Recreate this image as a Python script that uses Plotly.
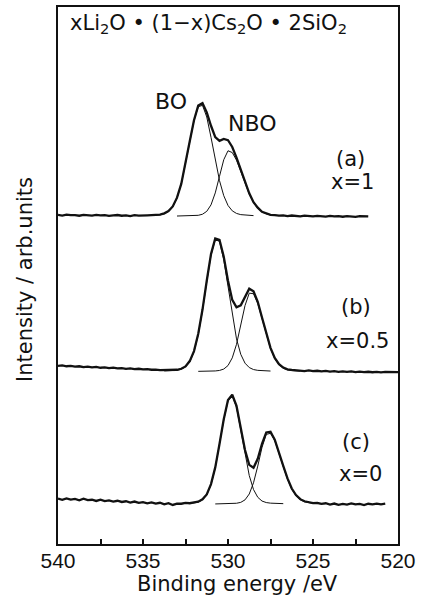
import plotly.graph_objects as go

# ---------------- data ----------------
energy = [
    540.0, 539.75, 539.5, 539.25, 539.0, 538.75, 538.5, 538.25, 538.0, 537.75,
    537.5, 537.25, 537.0, 536.75, 536.5, 536.25, 536.0, 535.75, 535.5, 535.25,
    535.0, 534.75, 534.5, 534.25, 534.0, 533.75, 533.5, 533.25, 533.0, 532.75,
    532.5, 532.25, 532.0, 531.75, 531.5, 531.25, 531.0, 530.75, 530.5, 530.25,
    530.0, 529.75, 529.5, 529.25, 529.0, 528.75, 528.5, 528.25, 528.0, 527.75,
    527.5, 527.25, 527.0, 526.75, 526.5, 526.25, 526.0, 525.75, 525.5, 525.25,
    525.0, 524.75, 524.5, 524.25, 524.0, 523.75, 523.5, 523.25, 523.0, 522.75,
    522.5, 522.25, 522.0, 521.75, 521.5, 521.25, 521.0, 520.75, 520.5, 520.25,
    520.0,
]

# measured spectra (envelopes), arbitrary units
spectrum_a = [
    1.3, 0.7, 1.6, 1.0, 1.2, 0.5, 1.4, 0.9, 0.6, 1.3,
    0.8, 1.1, 0.3, 0.9, 1.2, 0.5, 0.8, 0.2, 1.0, 0.6,
    0.4, 0.9, 1.1, 1.3, 1.6, 2.9, 5.1, 9.8, 18.6, 32.4,
    52.3, 75.2, 96.4, 111.0, 113.5, 104.3, 90.8, 79.4, 75.6, 77.5,
    76.3, 69.5, 58.9, 46.9, 34.0, 23.0, 14.1, 8.6, 4.5, 2.9,
    1.4, 1.2, 0.6, 0.9, 0.2, 0.7, 0.4, -0.1, 0.6, 0.3,
    -0.2, 0.4, 0.1, -0.4, 0.3, -0.2, 0.1, -0.5, 0.0, -0.3,
    -0.6, 0.1, -0.4, -0.2, None, None, None, None, None, None,
    None,
]
spectrum_b = [
    5.8, 6.2, 5.4, 5.7, 5.0, 5.4, 4.6, 5.0, 4.3, 4.7,
    3.9, 4.3, 3.6, 4.0, 3.2, 3.6, 2.8, 3.3, 2.5, 2.9,
    2.2, 2.6, 1.9, 2.1, 1.5, 1.6, 1.2, 1.6, 1.9, 2.9,
    5.2, 10.6, 20.6, 38.0, 62.3, 91.2, 118.0, 133.6, 132.3, 115.4,
    91.2, 72.0, 64.6, 66.5, 75.3, 83.3, 80.7, 70.1, 54.4, 38.0,
    23.9, 13.8, 7.5, 4.1, 2.3, 1.7, 1.1, 1.2, 0.6, 1.2,
    0.5, 0.9, 0.3, 0.7, 0.1, 0.5, -0.2, 0.3, -0.3, 0.2,
    -0.4, 0.0, -0.5, -0.1, -0.6, -0.2, -0.7, -0.3, -0.6, -0.4,
    -0.5,
]
spectrum_c = [
    5.5, 4.3, 5.8, 4.6, 5.2, 3.9, 5.4, 4.1, 4.4, 3.2,
    4.5, 3.0, 3.7, 2.5, 3.4, 2.2, 2.9, 1.6, 2.6, 1.3,
    2.1, 0.8, 1.7, 0.5, 1.4, -0.2, 0.9, -0.8, 0.6, 0.4,
    1.2, 0.9, 1.8, 2.4, 4.9, 9.8, 20.1, 36.9, 60.4, 85.2,
    104.5, 109.8, 98.6, 77.0, 54.4, 39.4, 36.5, 45.5, 60.6, 72.0,
    72.6, 64.8, 52.7, 38.5, 25.8, 15.7, 9.1, 5.0, 2.9, 1.9,
    1.1, 1.3, 0.2, 0.9, -0.4, 0.6, -0.7, 0.3, -0.5, 0.8,
    -0.3, 0.2, -0.9, 0.4, -0.2, 0.6, -0.3, 0.5, None, None,
    None,
]

# fitted components (BO / NBO) for each spectrum, with their energy spans
bo_a = [0.7, 1.0, 1.4, 2.4, 4.8, 9.4, 18.2, 32.2, 51.7, 74.6, 96.0, 109.9, 111.3,
        99.6, 79.2, 56.2, 35.7, 20.6, 10.8, 5.4, 2.8, 1.6, 1.1, 0.7, 0.6]
bo_a_span = (534.5, 528.5)
nbo_a = [0.2, 0.3, 0.3, 0.4, 0.5, 0.9, 2.0, 4.9, 11.4, 23.4, 40.1, 56.7, 65.7,
         63.9, 56.3, 45.1, 33.0, 22.1, 13.7, 7.9, 4.3, 2.3, 1.3, 0.8, 0.6]
nbo_a_span = (533.0, 527.0)

bo_b = [0.7, 0.8, 1.0, 1.4, 2.4, 4.7, 9.8, 19.9, 37.0, 61.4, 90.3, 117.0, 132.5,
        130.7, 112.2, 84.5, 56.0, 32.9, 17.4, 8.5, 4.1, 2.1, 1.3, 1.0, 0.8, 0.6]
bo_b_span = (533.75, 527.5)
nbo_b = [0.3, 0.3, 0.4, 0.5, 0.7, 1.2, 2.6, 6.1, 13.8, 27.4, 46.5, 66.3, 78.8,
         78.2, 68.4, 53.1, 36.9, 23.0, 13.0, 6.8, 3.4, 1.7, 1.0, 0.7, 0.5]
nbo_b_span = (531.75, 525.75)

bo_c = [0.5, 0.6, 0.8, 1.2, 2.0, 4.3, 9.4, 19.5, 36.3, 59.5, 84.6, 103.6, 108.7,
        97.3, 74.8, 49.6, 28.7, 14.7, 6.9, 3.1, 1.6, 1.0, 0.7, 0.6, 0.5]
bo_c_span = (532.75, 526.75)
nbo_c = [0.2, 0.3, 0.3, 0.4, 0.6, 0.9, 1.8, 4.3, 10.2, 21.4, 38.2, 57.0, 70.0,
         71.1, 63.8, 51.6, 37.6, 24.9, 15.0, 8.4, 4.4, 2.3, 1.3, 0.8, 0.6, 0.4]
nbo_c_span = (530.75, 524.5)

major_ticks = [540, 535, 530, 525, 520]
tick_labels = ["540", "535", "530", "525", "520"]
minor_ticks = [537.5, 532.5, 527.5, 522.5]

panel_labels = ["(a)", "(b)", "(c)"]
composition_labels = ["x=1", "x=0.5", "x=0"]
formula_label = "xLi<sub>2</sub>O • (1−x)Cs<sub>2</sub>O • 2SiO<sub>2</sub>"

# ---------------- layout constants ----------------
offsets = [329, 173, 40]          # vertical stacking of the three spectra
INK = "#111111"
FONT = "DejaVu Sans"


def span(hi, lo):
    return [e for e in energy if lo <= e <= hi]


def shift(vals, off):
    return [None if v is None else v + off for v in vals]


fig = go.Figure()

panels = [
    (spectrum_a, bo_a, bo_a_span, nbo_a, nbo_a_span),
    (spectrum_b, bo_b, bo_b_span, nbo_b, nbo_b_span),
    (spectrum_c, bo_c, bo_c_span, nbo_c, nbo_c_span),
]

for (spec, bo, bo_sp, nbo, nbo_sp), off in zip(panels, offsets):
    fig.add_trace(go.Scatter(x=span(*bo_sp), y=shift(bo, off), mode="lines",
                             line=dict(color=INK, width=1.0), hoverinfo="skip"))
    fig.add_trace(go.Scatter(x=span(*nbo_sp), y=shift(nbo, off), mode="lines",
                             line=dict(color=INK, width=1.0), hoverinfo="skip"))
    fig.add_trace(go.Scatter(x=energy, y=shift(spec, off), mode="lines",
                             line=dict(color=INK, width=2.3), connectgaps=False,
                             hoverinfo="skip"))

annotations = [
    dict(x=539.4, y=522, xanchor="left", yanchor="middle",
         text=formula_label, font=dict(size=21)),
    dict(x=533.35, y=444, text="BO", font=dict(size=22)),
    dict(x=528.6, y=422, text="NBO", font=dict(size=22)),
]
label_pos = [(522.8, 386, 522.65, 363), (522.45, 238, 522.4, 204), (522.45, 102, 522.2, 70)]
for lab, comp, (x1, y1, x2, y2) in zip(panel_labels, composition_labels, label_pos):
    annotations.append(dict(x=x1, y=y1, text=lab, font=dict(size=21)))
    annotations.append(dict(x=x2, y=y2, text=comp, font=dict(size=21)))

for a in annotations:
    a.setdefault("xref", "x")
    a.setdefault("yref", "y")
    a.setdefault("showarrow", False)
    a["font"] = dict(family=FONT, color=INK, size=a["font"]["size"])

annotations.append(dict(xref="paper", yref="paper", x=0.528, y=-0.0742,
                        xanchor="center", yanchor="middle", showarrow=False,
                        text="Binding energy /eV",
                        font=dict(family=FONT, size=21, color=INK)))
annotations.append(dict(xref="paper", yref="paper", x=-0.097, y=0.4917,
                        xanchor="center", yanchor="middle", showarrow=False,
                        textangle=-90, text="Intensity / arb.units",
                        font=dict(family=FONT, size=21, color=INK)))

fig.update_layout(
    width=426, height=614,
    margin=dict(l=58, r=28, t=5, b=70),
    paper_bgcolor="white", plot_bgcolor="white",
    showlegend=False,
    annotations=annotations,
    xaxis=dict(range=[540, 520], tickvals=major_ticks, ticktext=tick_labels,
               ticks="inside", ticklen=5, tickwidth=1.5, tickcolor=INK,
               ticklabelstandoff=-3,
               minor=dict(tickvals=minor_ticks, ticks="inside", ticklen=5,
                          tickwidth=1.5, tickcolor=INK, showgrid=False),
               showline=True, mirror=True, linecolor=INK, linewidth=2,
               showgrid=False, zeroline=False,
               tickfont=dict(family="Liberation Sans", size=21, color=INK)),
    yaxis=dict(range=[0, 539], showticklabels=False, ticks="",
               showline=True, mirror=True, linecolor=INK, linewidth=2,
               showgrid=False, zeroline=False),
)

# the page's default 8px body margin would shift the figure inside the window
fig.write_html("out.html", config={"displayModeBar": False},
               post_script="document.body.style.margin='0';")
